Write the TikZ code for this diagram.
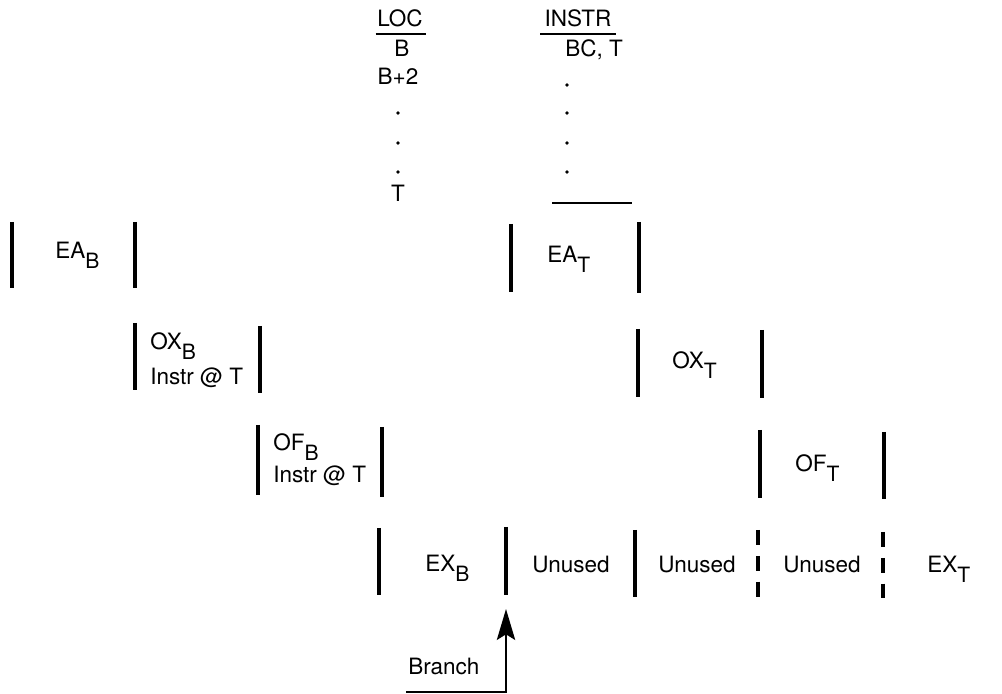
\documentclass[tikz,border=0pt]{standalone}
\usepackage{fontspec}
\setmainfont{TeX Gyre Heros}
\usepackage{tikz}
\usetikzlibrary{arrows.meta}
\newcommand{\subl}[1]{\smash{\raisebox{-7pt}{\fontsize{15}{15}\selectfont #1}}}

\begin{document}
\begin{tikzpicture}[x=0.025cm, y=-0.025cm,
    lbl/.style={anchor=base west, inner sep=0pt, font=\fontsize{16}{19}\selectfont},
    hdr/.style={anchor=base, inner sep=0pt, font=\fontsize{16}{19}\selectfont},
    bar/.style={line width=2.4pt},
    dbar/.style={line width=2.4pt, dash pattern=on 10.6pt off 7.8pt}]
  \useasboundingbox (0,0) rectangle (1002,694);

  % header: location and instruction columns
  \node[hdr] (loc) at (400,27) {LOC};
  \node[hdr] (locb) at (402,57) {B};
  \node[hdr] (locbb) at (398,85) {B+2};
  \node[hdr] (loct) at (398,202) {T};
  \node[hdr] (instr) at (578,27) {INSTR};
  \node[lbl] (bct) at (565,57) {BC, T};
  \draw[line width=1.8pt] ([xshift=-1pt,yshift=-4.5pt]loc.south west) -- ([xshift=2pt,yshift=-4.5pt]loc.south east);
  \draw[line width=1.8pt] ([xshift=-3pt,yshift=-4.5pt]instr.south west) -- ([xshift=3pt,yshift=-4.5pt]instr.south east);
  \foreach \y in {113,143,172} \fill (398,\y) circle (1.9);
  \foreach \y in {85,113,143,172} \fill (567,\y) circle (1.9);
  \draw[line width=1.8pt] (552,203) -- (632,203);

  % stage boundaries
  \foreach \x/\ya/\yb in {12/222/288, 135/222/288, 511/224/292, 639/222/293,
                          135/323/390, 260/326/393, 638/329/397, 762/330/398,
                          258/425/495, 382/427/497, 760/430/498, 884/432/499,
                          379/528/595, 506/527/595, 635/530/597}
    \draw[bar] (\x,\ya) -- (\x,\yb);
  \draw[dbar] (758,530) -- (758,597);
  \draw[dbar] (883,532) -- (883,598);

  % stage labels
  \node[lbl] (eab) at (55,259) {EA\subl{B}};
  \node[lbl] (eat) at (547,263) {EA\subl{T}};
  \node[lbl] (oxb) at (150,350) {OX\subl{B}};
  \node[lbl] (oxbi) at (150,385) {Instr @ T};
  \node[lbl] (oxt) at (672,369) {OX\subl{T}};
  \node[lbl] (ofb) at (273,451) {OF\subl{B}};
  \node[lbl] (ofbi) at (273,483) {Instr @ T};
  \node[lbl] (oft) at (795,472) {OF\subl{T}};
  \node[lbl] (exb) at (425,572) {EX\subl{B}};
  \node[lbl] (un1) at (532,573) {Unused};
  \node[lbl] (un2) at (658,573) {Unused};
  \node[lbl] (un3) at (783,573) {Unused};
  \node[lbl] (ext) at (927,573) {EX\subl{T}};

  % branch arrow
  \node[lbl] (branch) at (408,675) {Branch};
  \coordinate (brfoot) at (406,692);
  \coordinate (brtip) at (506,609);
  \draw[line width=1.6pt, -{Stealth[length=22pt, width=13pt, inset=4pt]}] (brfoot) -| (brtip);
\end{tikzpicture}
\end{document}
